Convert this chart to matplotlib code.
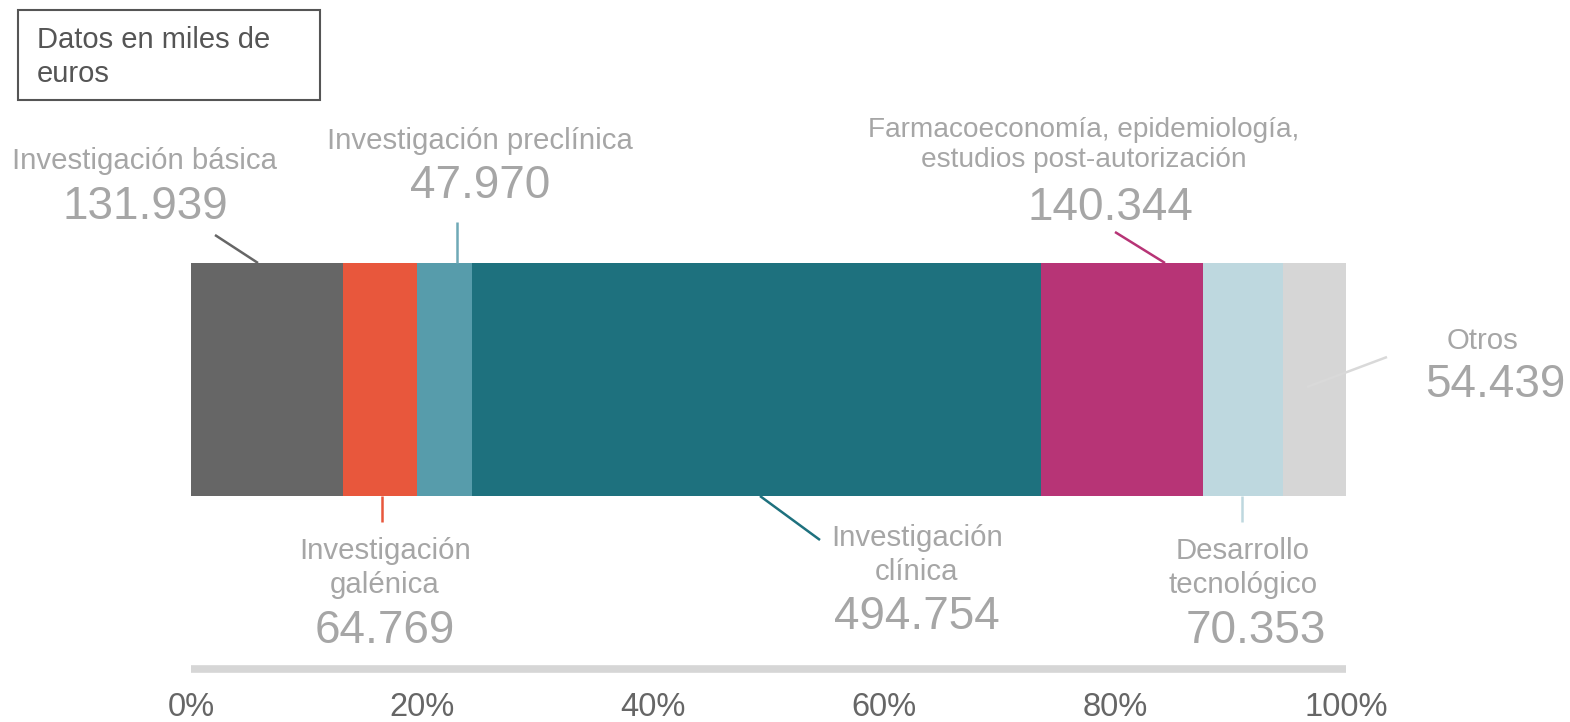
import matplotlib.pyplot as plt
from matplotlib.patches import Rectangle

plt.rcParams['font.family'] = ['Liberation Sans', 'DejaVu Sans']

# datos (miles de euros)
categorias = ["Investigación básica", "Investigación galénica", "Investigación preclínica",
              "Investigación clínica", "Farmacoeconomía, epidemiología, estudios post-autorización",
              "Desarrollo tecnológico", "Otros"]
valores = [131939, 64769, 47970, 494754, 140344, 70353, 54439]
colores = ["#666666", "#e8573c", "#579cab", "#1e717e", "#b73476", "#bed8df", "#d6d6d6"]
lineas = ["#666666", "#e8573c", "#6fa9b6", "#1e717e", "#b73476", "#bed8df", "#d9d9d9"]
etiquetas = ["Investigación básica", "Investigación\ngalénica", "Investigación preclínica",
             "Investigación\nclínica", "Farmacoeconomía, epidemiología,\nestudios post-autorización",
             "Desarrollo\ntecnológico", "Otros"]
ticks = [0, 0.2, 0.4, 0.6, 0.8, 1.0]

W, H = 1570, 722
X0, X1 = 191, 1346  # bar extent in px
SPAN = X1 - X0

fig = plt.figure(figsize=(W / 100, H / 100), dpi=100)
ax = fig.add_axes([0, 0, 1, 1])
ax.set_xlim(-X0 / SPAN, (W - X0) / SPAN)
ax.set_ylim(H, 0)
ax.axis('off')


def px(x):
    return (x - X0) / SPAN


total = sum(valores)
fr = [v / total for v in valores]
left = 0
for f, c in zip(fr, colores):
    ax.barh(379.5, f, left=left, height=233, color=c, linewidth=0)
    left += f

# layout: (label x, label y first line, number y, number x, line from, line to) in px
layout = [
    (145, 161, 207, 145, (215, 235), (258, 263)),
    (385, 551, 631, 385, (382, 496), (382, 522)),
    (480, 141, 186, 480, (457, 263), (457, 222)),
    (917, 538, 617, 917, (760, 496), (820, 540)),
    (1084, 128, 208, 1110, (1165, 263), (1115, 232)),
    (1243, 551, 631, 1256, (1242, 496), (1242, 522)),
    (1483, 341, 385, 1495, (1307, 387), (1387, 357)),
]

for lab, val, lc, (lx, ly, ny, nx, p0, p1) in zip(etiquetas, valores, lineas, layout):
    nlines = lab.count("\n") + 1
    cy = ly + (nlines - 1) * 17
    fs = 20.2 if lab.startswith("Farma") else 21.2
    ax.text(px(lx), cy, lab, ha='center', va='center', fontsize=fs,
            color='#a6a6a6', linespacing=1.24)
    ax.text(px(nx), ny, f"{val:,}".replace(",", "."), ha='center', va='center',
            fontsize=33, color='#a6a6a6')
    ax.plot([px(p0[0]), px(p1[0])], [p0[1], p1[1]], color=lc, lw=1.8,
            solid_capstyle='butt')

# eje inferior
ax.plot([0, 1], [669, 669], color='#d6d6d6', lw=5.5, solid_capstyle='butt')
for t in ticks:
    ax.text(t, 708, f"{int(round(t * 100))}%", ha='center', va='center',
            fontsize=23.5, color='#666666')

# caja de nota
ax.add_patch(Rectangle((px(18), 10), 302 / SPAN, 90, fill=False,
                       edgecolor='#555555', lw=1.5))
ax.text(px(37), 57, "Datos en miles de\neuros", ha='left', va='center',
        fontsize=21, color='#555555', linespacing=1.24)

fig.savefig("out.png", dpi=100)
